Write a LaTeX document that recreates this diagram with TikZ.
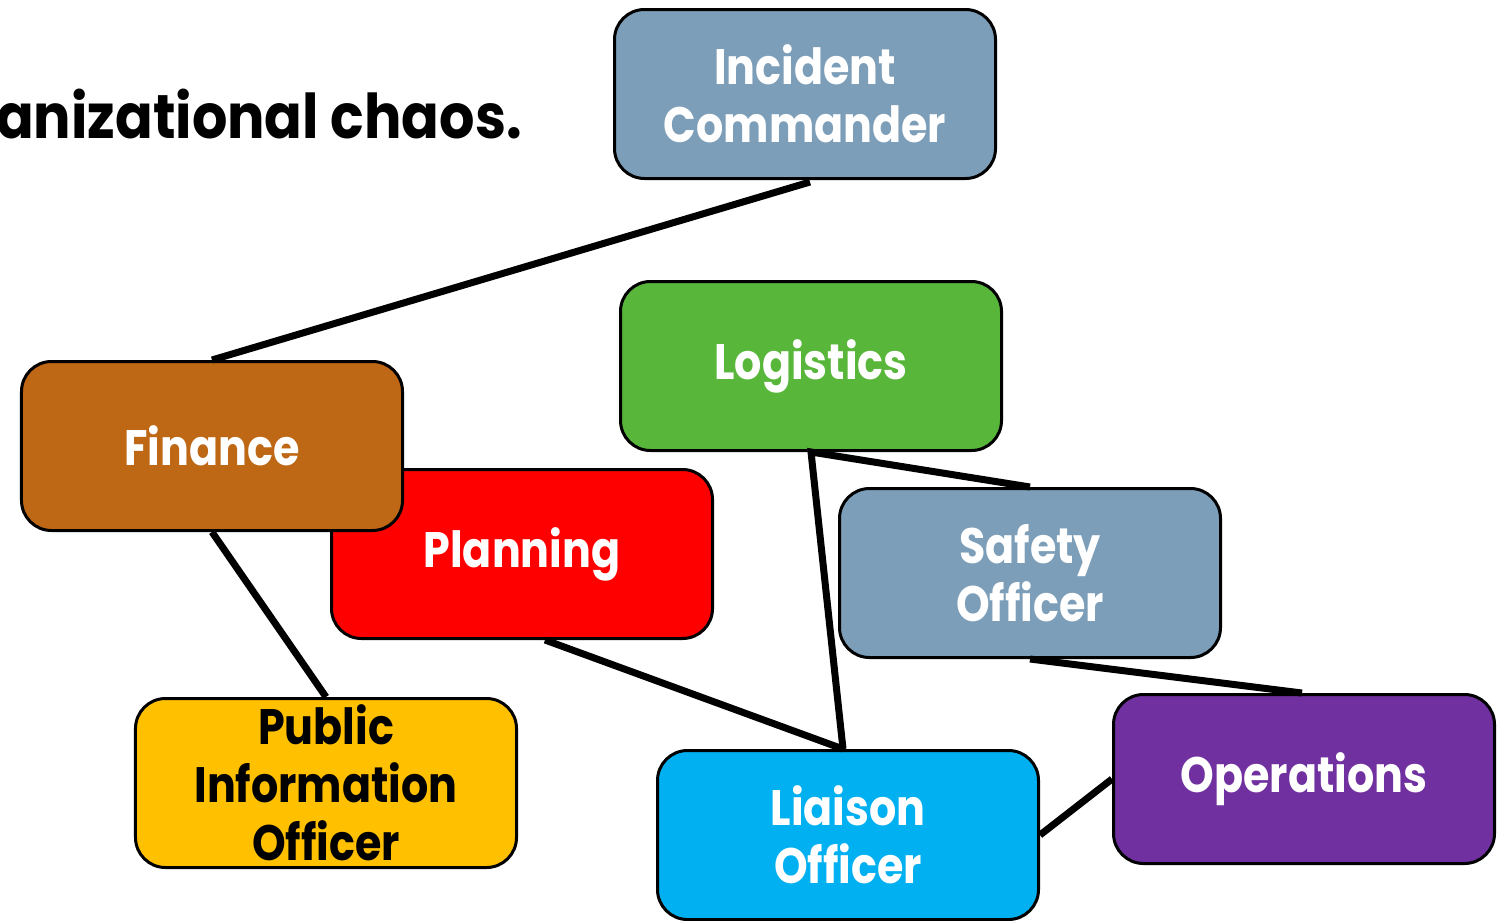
\documentclass[tikz,border=0pt]{standalone}
\usepackage{fontspec}
\newfontfamily\pop{Poppins}[FakeStretch=0.86]
\newfontfamily\poptitle{Poppins}[FakeStretch=0.9]
\usetikzlibrary{calc}
\definecolor{steel}{RGB}{124,158,184}
\definecolor{leaf}{RGB}{88,182,58}
\definecolor{rust}{RGB}{190,104,22}
\definecolor{gold}{RGB}{255,192,0}
\definecolor{sky}{RGB}{0,176,240}
\definecolor{plum}{RGB}{112,48,160}
\begin{document}
\begin{tikzpicture}[x=1bp,y=-1bp,
  box/.style={draw=black,line width=3bp,rounded corners=30bp,minimum width=381bp,
    minimum height=169bp,inner sep=0pt,align=center,text=white,
    font=\pop\bfseries\fontsize{50}{58}\selectfont},
  link/.style={line width=7bp,draw=black}]
\useasboundingbox (0,0) rectangle (1506,920);
\node[anchor=base east,inner sep=0pt,font=\poptitle\bfseries\fontsize{62}{64}\selectfont] (title) at (522,138) {anizational chaos.};
\node[box,fill=steel] (ic) at (805,94) {Incident\\Commander};
\node[box,fill=leaf] (log) at (811,366) {Logistics};
\node[box,fill=red] (plan) at (522,554) {Planning};
\node[box,fill=rust] (fin) at (212,446) {Finance};
\node[box,fill=steel] (saf) at (1030,573) {Safety\\Officer};
\node[box,fill=gold,text=black] (pio) at (326,783) {Public\\Information\\Officer};
\node[box,fill=sky] (li) at (848,835) {Liaison\\Officer};
\node[box,fill=plum] (ops) at (1304,779) {Operations};
\coordinate (lj) at ($(li.north)+(-5,0)$);
\draw[link] ($(ic.south)+(5,2)$) -- (fin.north);
\draw[link] (fin.south) -- (pio.north);
\draw[link] ($(plan.south)+(23,0)$) -- (lj);
\draw[link] (lj) -- (log.south) -- (saf.north);
\draw[link] (saf.south) -- ($(ops.north)+(-2,0)$);
\draw[link] (li.east) -- (ops.west);
\end{tikzpicture}
\end{document}
